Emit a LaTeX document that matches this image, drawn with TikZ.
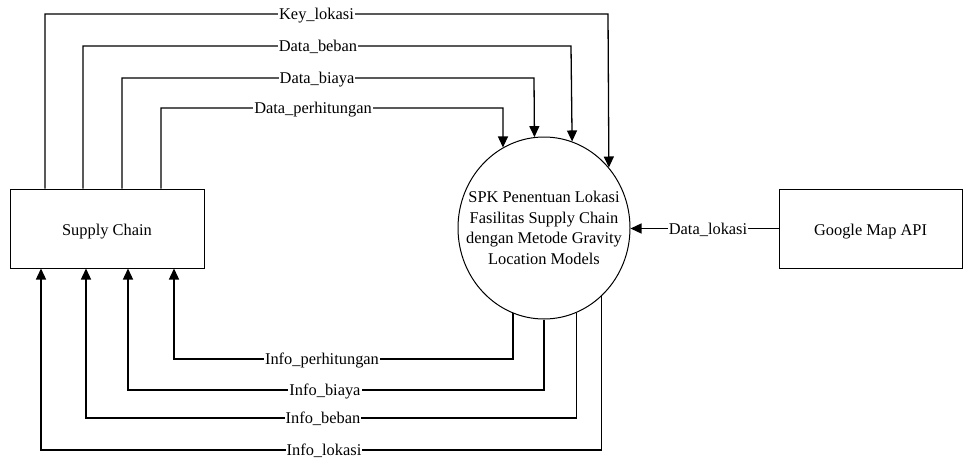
\documentclass[tikz,border=0pt]{standalone}
\usepackage{fontspec}
\setmainfont{Liberation Serif}
\usetikzlibrary{arrows.meta,shapes.geometric}

\begin{document}
\begin{tikzpicture}[x=1pt,y=-1pt,
  every node/.style={font=\fontsize{16.4}{20.7}\selectfont},
  entity/.style={draw,line width=1pt,inner sep=0pt,minimum height=79pt,
                 text height=14pt,text depth=0pt},
  process/.style={draw,ellipse,line width=1pt,inner sep=0pt,
                  minimum width=172pt,minimum height=182pt},
  flow/.style={line width=1.3pt,-{Triangle[length=11pt,width=10pt]}},
  lbl/.style={fill=white,inner xsep=1pt,inner ysep=0.5pt,
              text height=11.4pt,text depth=0pt}]

\useasboundingbox (0,0) rectangle (964,460);

% external entities and the process
\node[entity,minimum width=194pt] (sc) at (107,228.5) {Supply Chain};
\node[entity,minimum width=183pt] (gm) at (870.5,228.5) {Google Map API};
\node[process] (spk) at (544,228) {};
\node[align=center] (spktext) at (spk.center)
  {SPK Penentuan Lokasi\\Fasilitas Supply Chain\\dengan Metode Gravity\\Location Models};

% data flowing from Supply Chain into the process
\draw[flow] (sc.north -| 45,0)  |- (608,14)  -- (spk.43.53);
\draw[flow] (sc.north -| 83,0)  |- (571,46)  -- (spk.72.65);
\draw[flow] (sc.north -| 122,0) |- (534,78)  -- (spk.96.31);
\draw[flow] (sc.north -| 161,0) |- (503,108) -- (spk.117.14);

% information returned to Supply Chain
\draw[flow] (spk.-110.75) |- (174,359) -- (sc.south -| 174,0);
\draw[flow] (spk.south)   |- (128,390) -- (sc.south -| 128,0);
\draw[flow] (spk.-69.94)  |- (86,418)  -- (sc.south -| 86,0);
\draw[flow] (spk.-50.96)  |- (41,450)  -- (sc.south -| 41,0);

% location data from the map service
\draw[flow] (gm.west) -- (spk.east |- gm.west);

% flow labels
\node[lbl] (l1) at (316.5,14) {Key\_lokasi};
\node[lbl] (l2) at (318,46)   {Data\_beban};
\node[lbl] (l3) at (317,78)   {Data\_biaya};
\node[lbl] (l4) at (313,108)  {Data\_perhitungan};
\node[lbl] (l5) at (322,359)  {Info\_perhitungan};
\node[lbl] (l6) at (325,390)  {Info\_biaya};
\node[lbl] (l7) at (323,418)  {Info\_beban};
\node[lbl] (l8) at (324,450)  {Info\_lokasi};
\node[lbl] (l9) at (708,228.5) {Data\_lokasi};

\end{tikzpicture}
\end{document}
